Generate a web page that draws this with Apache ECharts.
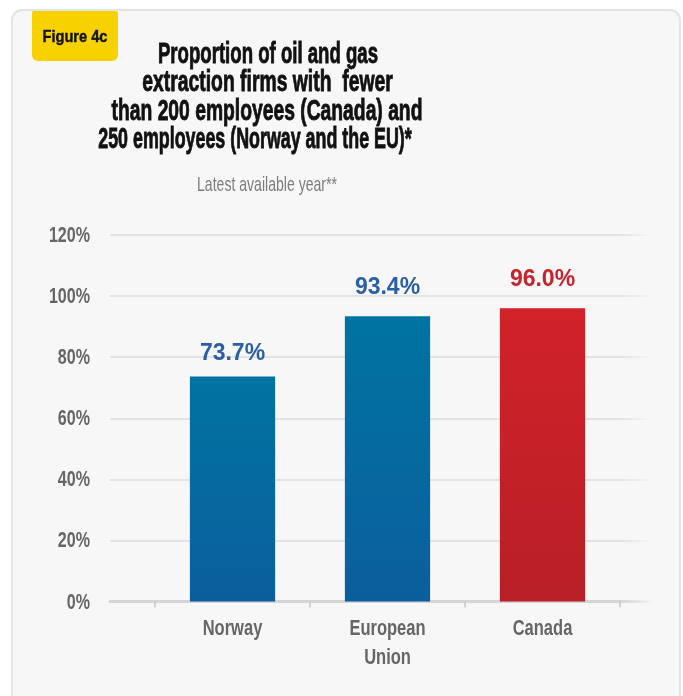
<!DOCTYPE html>
<html>
<head>
<meta charset="utf-8">
<script src="https://cdn.jsdelivr.net/npm/echarts@6/dist/echarts.min.js"></script>
<style>
  html, body { margin: 0; padding: 0; background: #ffffff; }
  #chart { width: 683px; height: 696px; }
</style>
</head>
<body>
<div id="chart"></div>
<script>
// Share of oil and gas extraction firms below the employee threshold
const categories = ['Norway', 'European\nUnion', 'Canada'];
const shares = [73.7, 93.4, 96.0];
const yTicks = [0, 20, 40, 60, 80, 100, 120];

const titleLines = [
  'Proportion of oil and gas',
  'extraction firms with  fewer',
  'than 200 employees (Canada) and',
  '250 employees (Norway and the EU)*'
];
const subtitle = 'Latest available year**';
const badge = 'Figure 4c';

const sans = "'Liberation Sans', Arial, sans-serif";
const G = echarts.graphic;

const blueFill = new G.LinearGradient(0, 0, 0, 1, [
  { offset: 0, color: '#0074a1' },
  { offset: 1, color: '#0b5e9d' }
]);
const redFill = new G.LinearGradient(0, 0, 0, 1, [
  { offset: 0, color: '#d2222a' },
  { offset: 1, color: '#b81f26' }
]);
const fills = [blueFill, blueFill, redFill];
const labelColors = ['#2a5ea6', '#2a5ea6', '#c8222a'];
const labelGaps = [11, 17, 17];

const fadeGrey = (c) => new G.LinearGradient(0, 0, 1, 0, [
  { offset: 0, color: c },
  { offset: 0.94, color: c },
  { offset: 1, color: 'rgba(220,220,220,0)' }
]);

const chart = echarts.init(document.getElementById('chart'), null, { renderer: 'canvas' });

// Card, badge, title block
const frame = [
  {
    type: 'rect', z: -10, silent: true,
    shape: { x: 12, y: 10, width: 668, height: 740, r: 10 },
    style: { fill: '#f7f7f7', stroke: '#e4e4e4', lineWidth: 2 }
  },
  {
    type: 'rect', z: -5,
    shape: { x: 32, y: 11, width: 86, height: 50, r: [2, 2, 6, 6] },
    style: { fill: '#f7d100' }
  },
  {
    type: 'text', x: 75, y: 37, scaleX: 0.86,
    style: {
      text: badge, fill: '#111', stroke: '#111', lineWidth: 0.4,
      font: 'bold 17px ' + sans, textAlign: 'center', textVerticalAlign: 'middle'
    }
  },
  {
    type: 'text', x: 267, y: 185, scaleX: 0.67,
    style: {
      text: subtitle, fill: '#7d7d7d', font: '21px ' + sans,
      textAlign: 'center', textVerticalAlign: 'middle'
    }
  }
];

// Title, one condensed line per element; the last line sits a little left of the others
const titleX = [268, 267.5, 267, 255];
const titleSqueeze = [0.62, 0.645, 0.643, 0.595];
titleLines.forEach((line, i) => {
  frame.push({
    type: 'text', x: titleX[i], y: 40 + i * 28.5, scaleX: titleSqueeze[i],
    style: {
      text: line, fill: '#111', stroke: '#111', lineWidth: 0.9,
      font: 'bold 30px ' + sans, lineHeight: 28.5,
      textAlign: 'center', textVerticalAlign: 'top'
    }
  });
});

const option = {
  backgroundColor: '#ffffff',
  animation: false,
  graphic: frame,
  grid: [
    { left: 110, right: 33, top: 235, bottom: 94.5 },
    { left: 155, right: 63, top: 235, bottom: 94.5 }
  ],
  xAxis: [
    {
      type: 'category', gridIndex: 0, data: [''],
      axisLine: { show: true, lineStyle: { color: fadeGrey('#d5d5d5'), width: 3 } },
      axisTick: { show: false }, axisLabel: { show: false }, splitLine: { show: false }
    },
    {
      type: 'category', gridIndex: 1, data: categories,
      axisLine: { show: false },
      axisTick: { show: true, length: 6, lineStyle: { color: '#c8c8c8', width: 1.5 } },
      axisLabel: { show: false }
    }
  ],
  yAxis: [
    {
      type: 'value', gridIndex: 0, min: yTicks[0], max: yTicks[yTicks.length - 1], interval: 20,
      axisLine: { show: false }, axisTick: { show: false }, axisLabel: { show: false },
      splitLine: { show: true, lineStyle: { color: fadeGrey('#dcdcdc'), width: 1.5 } }
    },
    {
      type: 'value', gridIndex: 1, min: yTicks[0], max: yTicks[yTicks.length - 1], interval: 20,
      show: false, splitLine: { show: false }
    }
  ],
  series: [
    {
      type: 'bar', xAxisIndex: 1, yAxisIndex: 1, barWidth: '55%',
      data: shares.map((v, i) => ({
        value: v,
        itemStyle: { color: fills[i] },
        label: { color: labelColors[i], distance: labelGaps[i] }
      })),
      label: {
        show: true, position: 'top',
        formatter: (p) => p.value.toFixed(1) + '%',
        fontFamily: sans, fontWeight: 'bold', fontSize: 23
      }
    }
  ]
};

chart.setOption(option);

// Condensed tick and category labels, placed through the axes' own scales
const axisText = [];
const zeroY = chart.convertToPixel({ yAxisIndex: 0 }, 0);
yTicks.forEach((t) => {
  const py = chart.convertToPixel({ yAxisIndex: 0 }, t);
  axisText.push({
    type: 'text', x: 90, y: py + 1, scaleX: 0.73,
    style: {
      text: t + '%', fill: '#666', font: 'bold 22px ' + sans,
      textAlign: 'right', textVerticalAlign: 'middle'
    }
  });
});
categories.forEach((c, i) => {
  const px = chart.convertToPixel({ xAxisIndex: 1 }, i);
  axisText.push({
    type: 'text', x: px, y: zeroY + 13, scaleX: 0.75,
    style: {
      text: c, fill: '#666', font: 'bold 22px ' + sans, lineHeight: 29,
      textAlign: 'center', textVerticalAlign: 'top'
    }
  });
});

chart.setOption({ graphic: frame.concat(axisText) });
</script>
</body>
</html>
